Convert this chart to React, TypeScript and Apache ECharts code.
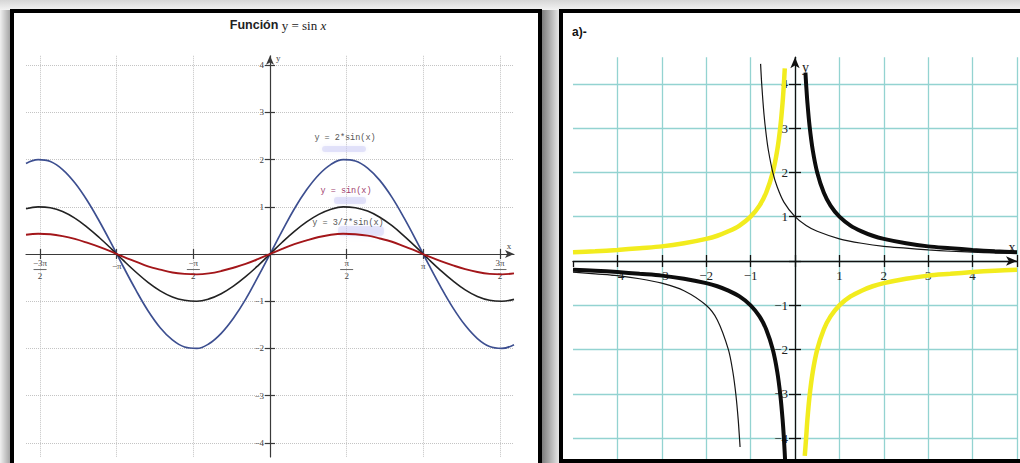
import React, { useEffect, useRef } from "react";
import * as echarts from "echarts";

// ---------- Left panel data ----------
const sineX = [
  -5, -4.75, -4.5, -4.25, -4, -3.75, -3.5, -3.25, -3, -2.75, -2.5, -2.25, -2, -1.75, -1.5, -1.25, -1, -0.75, -0.5, -0.25,
  0, 0.25, 0.5, 0.75, 1, 1.25, 1.5, 1.75, 2, 2.25, 2.5, 2.75, 3, 3.25, 3.5, 3.75, 4, 4.25, 4.5, 4.75, 5,
];
const sinY = [
  0.96, 1.0, 0.98, 0.9, 0.76, 0.57, 0.35, 0.11, -0.14, -0.38, -0.6, -0.78, -0.91, -0.98, -1.0, -0.95, -0.84, -0.68, -0.48, -0.25,
  0, 0.25, 0.48, 0.68, 0.84, 0.95, 1.0, 0.98, 0.91, 0.78, 0.6, 0.38, 0.14, -0.11, -0.35, -0.57, -0.76, -0.9, -0.98, -1.0, -0.96,
];
const twoSinY = [
  1.92, 2.0, 1.96, 1.79, 1.51, 1.14, 0.7, 0.22, -0.28, -0.76, -1.2, -1.56, -1.82, -1.97, -2.0, -1.9, -1.68, -1.36, -0.96, -0.49,
  0, 0.49, 0.96, 1.36, 1.68, 1.9, 2.0, 1.97, 1.82, 1.56, 1.2, 0.76, 0.28, -0.22, -0.7, -1.14, -1.51, -1.79, -1.96, -2.0, -1.92,
];
const threeSeventhsSinY = [
  0.41, 0.43, 0.42, 0.38, 0.32, 0.24, 0.15, 0.05, -0.06, -0.16, -0.26, -0.33, -0.39, -0.42, -0.43, -0.41, -0.36, -0.29, -0.21, -0.11,
  0, 0.11, 0.21, 0.29, 0.36, 0.41, 0.43, 0.42, 0.39, 0.33, 0.26, 0.16, 0.06, -0.05, -0.15, -0.24, -0.32, -0.38, -0.42, -0.43, -0.41,
];
const sineTickValues = [-3 * Math.PI / 2, -Math.PI, -Math.PI / 2, Math.PI / 2, Math.PI, 3 * Math.PI / 2];
const sineTickLabels = [["−3π", "2"], ["−π"], ["−π", "2"], ["π", "2"], ["π"], ["3π", "2"]];
const sineYTicks = [-4, -3, -2, -1, 0, 1, 2, 3, 4];
const sineYLabels = [-4, -3, -2, -1, 1, 2, 3, 4];

// ---------- Right panel data ----------
const yellowLeft = [
  [-5, 0.2], [-4.5, 0.22], [-4, 0.25], [-3.5, 0.29], [-3, 0.33], [-2.5, 0.4], [-2, 0.5], [-1.75, 0.57], [-1.5, 0.67],
  [-1.25, 0.8], [-1, 1], [-0.8, 1.25], [-0.65, 1.54], [-0.5, 2], [-0.4, 2.5], [-0.33, 3.03], [-0.28, 3.57], [-0.25, 4], [-0.23, 4.35],
];
const yellowRight = [
  [0.22, -4.4], [0.25, -4], [0.28, -3.57], [0.33, -3.03], [0.4, -2.5], [0.5, -2], [0.65, -1.54], [0.8, -1.25], [1, -1],
  [1.25, -0.8], [1.5, -0.67], [1.75, -0.57], [2, -0.5], [2.5, -0.4], [3, -0.33], [3.5, -0.29], [4, -0.25], [4.5, -0.22], [5, -0.2],
];
const thickRight = [
  [0.235, 4.25], [0.25, 4], [0.28, 3.57], [0.33, 3.03], [0.4, 2.5], [0.5, 2], [0.65, 1.54], [0.8, 1.25], [1, 1],
  [1.25, 0.8], [1.5, 0.67], [1.75, 0.57], [2, 0.5], [2.5, 0.4], [3, 0.33], [3.5, 0.29], [4, 0.25], [4.5, 0.22], [5, 0.2],
];
const thickLeft = [
  [-5, -0.2], [-4.5, -0.22], [-4, -0.25], [-3.5, -0.29], [-3, -0.33], [-2.5, -0.4], [-2, -0.5], [-1.75, -0.57], [-1.5, -0.67],
  [-1.25, -0.8], [-1, -1], [-0.8, -1.25], [-0.65, -1.54], [-0.5, -2], [-0.4, -2.5], [-0.33, -3.03], [-0.28, -3.57], [-0.25, -4], [-0.215, -4.65],
];
const thinRight = [
  [-0.775, 4.45], [-0.75, 4], [-0.7, 3.33], [-0.65, 2.86], [-0.6, 2.5], [-0.5, 2], [-0.4, 1.67], [-0.25, 1.33], [0, 1],
  [0.25, 0.8], [0.5, 0.67], [1, 0.5], [1.5, 0.4], [2, 0.33], [2.5, 0.29], [3, 0.25], [3.5, 0.22], [4, 0.2], [4.5, 0.18], [5, 0.17],
];
const thinLeft = [
  [-5, -0.25], [-4.5, -0.29], [-4, -0.33], [-3.5, -0.4], [-3, -0.5], [-2.5, -0.67], [-2, -1], [-1.75, -1.33], [-1.5, -2],
  [-1.4, -2.5], [-1.33, -3.03], [-1.28, -3.57], [-1.25, -4], [-1.237, -4.2],
];
const hypTicks = [-5, -4, -3, -2, -1, 0, 1, 2, 3, 4, 5];
const hypGridX = [-4, -3, -2, -1, 0, 1, 2, 3, 4, 5];
const hypXLabels = [-4, -3, -2, -1, 1, 2, 3, 4];
const hypYTicks = [-4, -3, -2, -1, 0, 1, 2, 3, 4];
const hypYLabels = [-4, -3, -2, -1, 1, 2, 3, 4];

const SERIF = "'Liberation Serif', 'DejaVu Serif', serif";
const SANS = "'Liberation Sans', Arial, sans-serif";
const MONO = "'Liberation Mono', 'DejaVu Sans Mono', monospace";

const minus = (v: number) => (v < 0 ? "\u2212" + Math.abs(v) : String(v));

function sineLabel(v: number) {
  let idx = 0;
  let best = Infinity;
  sineTickValues.forEach((t, i) => {
    const d = Math.abs(t - v);
    if (d < best) { best = d; idx = i; }
  });
  const parts = sineTickLabels[idx];
  if (parts.length === 2) return `{n|${parts[0]}}\n{l|}\n{d|${parts[1]}}`;
  return `{p|${parts[0]}}`;
}

// layout of the two plotting areas
const L = { left: 26, top: 55.8, width: 488, height: 401.2, xMin: -5, xMax: 5, yMin: -4.3, yMax: 4.2 };
const R = { left: 573, top: 57.2, width: 444, height: 407.6, xMin: -5, xMax: 5, yMin: -4.6, yMax: 4.6 };
const xOffset = (g: typeof L) => -(g.height * (0 - g.yMin) / (g.yMax - g.yMin));
const yOffset = (g: typeof L) => -(g.width * (0 - g.xMin) / (g.xMax - g.xMin));

export default function App() {
  const ref = useRef<HTMLDivElement>(null);
  useEffect(() => {
    const chart = echarts.init(ref.current!, null, { renderer: "svg" });
    const leftAxisColor = "#3a3a3a";
    const rightAxisColor = "#111";
    const option: any = {
      animation: false,
      backgroundColor: "#ffffff",
      grid: [
        { left: L.left, top: L.top, width: L.width, height: L.height, containLabel: false, outerBoundsMode: "none" },
        { left: R.left, top: R.top, width: R.width, height: R.height, containLabel: false, outerBoundsMode: "none" },
      ],
      xAxis: [
        {
          gridIndex: 0, type: "value", min: L.xMin, max: L.xMax, position: "bottom", offset: xOffset(L),
          axisLine: { onZero: false, lineStyle: { color: leftAxisColor, width: 1.2 }, symbol: ["none", "arrow"], symbolSize: [6, 9] },
          axisTick: { customValues: sineTickValues, length: 5, lineStyle: { color: leftAxisColor, width: 1.2 } },
          axisLabel: {
            customValues: sineTickValues, margin: 4, formatter: sineLabel,
            rich: {
              n: { fontFamily: SERIF, fontSize: 9, color: "#444", lineHeight: 10, align: "center" },
              l: { width: 13, height: 1, backgroundColor: "#666", lineHeight: 3, align: "center" },
              d: { fontFamily: SERIF, fontSize: 9, color: "#444", lineHeight: 10, align: "center" },
              p: { fontFamily: SERIF, fontSize: 9, color: "#444", lineHeight: 10, padding: [6, 0, 0, 0], align: "center" },
            },
          },
          splitLine: { show: true, lineStyle: { color: "#c4c4c4", type: "dotted", width: 1 } },
          name: "x", nameLocation: "end", nameGap: -5,
          nameTextStyle: { fontFamily: SERIF, fontSize: 9, color: "#444", align: "center", verticalAlign: "bottom", padding: [0, 0, 4, 0] },
        },
        {
          gridIndex: 0, type: "value", min: L.xMin, max: L.xMax, position: "bottom", offset: xOffset(L),
          axisLine: { show: false, onZero: false },
          axisTick: { inside: true, customValues: sineTickValues, length: 5, lineStyle: { color: leftAxisColor, width: 1.2 } },
          axisLabel: { show: false }, splitLine: { show: false },
        },
        {
          gridIndex: 1, type: "value", min: R.xMin, max: R.xMax, position: "bottom", offset: xOffset(R),
          axisLine: { onZero: false, lineStyle: { color: rightAxisColor, width: 1.3 }, symbol: ["none", "arrow"], symbolSize: [7, 11] },
          axisTick: { customValues: hypTicks, length: 6, lineStyle: { color: rightAxisColor, width: 1.3 } },
          axisLabel: { customValues: hypXLabels, margin: 8, formatter: minus, fontFamily: SERIF, fontSize: 13, color: "#222" },
          splitLine: { show: false },
          name: "x", nameLocation: "end", nameGap: -5,
          nameTextStyle: { fontFamily: SERIF, fontSize: 14, color: "#222", align: "center", verticalAlign: "bottom", padding: [0, 0, 7, 0] },
        },
        {
          gridIndex: 1, type: "value", min: R.xMin, max: R.xMax, position: "bottom", offset: xOffset(R),
          axisLine: { show: false, onZero: false },
          axisTick: { inside: true, customValues: hypGridX, length: 6, lineStyle: { color: rightAxisColor, width: 1.3 } },
          axisLabel: { show: false },
          splitLine: { show: true, lineStyle: { color: "#93d3d1", width: 1.3 } },
        },
      ],
      yAxis: [
        {
          gridIndex: 0, type: "value", min: L.yMin, max: L.yMax, position: "left", offset: yOffset(L),
          axisLine: { onZero: false, lineStyle: { color: leftAxisColor, width: 1.2 }, symbol: ["none", "arrow"], symbolSize: [6, 9] },
          axisTick: { customValues: sineYTicks, length: 5, lineStyle: { color: leftAxisColor, width: 1.2 } },
          axisLabel: { customValues: sineYLabels, margin: 6, formatter: minus, fontFamily: SERIF, fontSize: 9, color: "#444" },
          splitLine: { show: true, lineStyle: { color: "#c4c4c4", type: "dotted", width: 1 } },
          name: "y", nameLocation: "end", nameGap: -2,
          nameTextStyle: { fontFamily: SERIF, fontSize: 9, color: "#444", align: "left", verticalAlign: "middle", padding: [0, 0, 0, 6] },
        },
        {
          gridIndex: 0, type: "value", min: L.yMin, max: L.yMax, position: "left", offset: yOffset(L),
          axisLine: { show: false, onZero: false },
          axisTick: { inside: true, customValues: sineYTicks, length: 5, lineStyle: { color: leftAxisColor, width: 1.2 } },
          axisLabel: { show: false }, splitLine: { show: false },
        },
        {
          gridIndex: 1, type: "value", min: R.yMin, max: R.yMax, position: "left", offset: yOffset(R),
          axisLine: { onZero: false, lineStyle: { color: rightAxisColor, width: 1.3 }, symbol: ["none", "arrow"], symbolSize: [7, 11] },
          axisTick: { customValues: hypYTicks, length: 6, lineStyle: { color: rightAxisColor, width: 1.3 } },
          axisLabel: { customValues: hypYLabels, margin: 7, formatter: minus, fontFamily: SERIF, fontSize: 13, color: "#222" },
          splitLine: { show: true, lineStyle: { color: "#93d3d1", width: 1.3 } },
          name: "y", nameLocation: "end", nameGap: -10,
          nameTextStyle: { fontFamily: SERIF, fontSize: 14, color: "#222", align: "left", verticalAlign: "middle", padding: [0, 0, 0, 7] },
        },
        {
          gridIndex: 1, type: "value", min: R.yMin, max: R.yMax, position: "left", offset: yOffset(R),
          axisLine: { show: false, onZero: false },
          axisTick: { inside: true, customValues: hypYTicks, length: 6, lineStyle: { color: rightAxisColor, width: 1.3 } },
          axisLabel: { show: false }, splitLine: { show: false },
        },
      ],
      series: [
        {
          type: "line", xAxisIndex: 0, yAxisIndex: 0, smooth: 0.4, showSymbol: false,
          data: sineX.map((x, i) => [x, twoSinY[i]]), lineStyle: { color: "#3d4f90", width: 1.7 },
        },
        {
          type: "line", xAxisIndex: 0, yAxisIndex: 0, smooth: 0.4, showSymbol: false,
          data: sineX.map((x, i) => [x, sinY[i]]), lineStyle: { color: "#222", width: 1.6 },
        },
        {
          type: "line", xAxisIndex: 0, yAxisIndex: 0, smooth: 0.4, showSymbol: false,
          data: sineX.map((x, i) => [x, threeSeventhsSinY[i]]), lineStyle: { color: "#a3161a", width: 1.9 },
        },
        ...[
          { d: yellowLeft, c: "#f2ec1e", w: 4.5 },
          { d: yellowRight, c: "#f2ec1e", w: 4.5 },
          { d: thinRight, c: "#151515", w: 1.2 },
          { d: thinLeft, c: "#151515", w: 1.2 },
          { d: thickRight, c: "#0d0d0d", w: 4 },
          { d: thickLeft, c: "#0d0d0d", w: 4 },
        ].map((s) => ({
          type: "line", xAxisIndex: 2, yAxisIndex: 2, smooth: 0.3, showSymbol: false,
          data: s.d, lineStyle: { color: s.c, width: s.w },
        })),
      ],
      graphic: [
        {
          type: "rect", z: 0, shape: { x: 0, y: 0, width: 1020, height: 10 },
          style: { fill: new echarts.graphic.LinearGradient(0, 0, 0, 1, [{ offset: 0, color: "#d6d6d6" }, { offset: 1, color: "#f3f3f3" }]) },
        },
        {
          type: "rect", z: 0, shape: { x: 0, y: 10, width: 10, height: 453 },
          style: { fill: new echarts.graphic.LinearGradient(0, 0, 1, 0, [{ offset: 0, color: "#f0f0f0" }, { offset: 1, color: "#a5a5a5" }]) },
        },
        {
          type: "rect", z: 0, shape: { x: 542, y: 10, width: 17, height: 453 },
          style: { fill: new echarts.graphic.LinearGradient(0, 0, 1, 0, [{ offset: 0, color: "#7c7c7c" }, { offset: 1, color: "#e8e8e8" }]) },
        },
        {
          type: "rect", z: 100, shape: { x: 12, y: 11, width: 528, height: 480 },
          style: { fill: "none", stroke: "#000", lineWidth: 4 },
        },
        {
          type: "rect", z: 100, shape: { x: 561, y: 11, width: 500, height: 450 },
          style: { fill: "none", stroke: "#000", lineWidth: 4 },
        },
        // soft lavender smudges under the annotations
        { type: "rect", z: 1, shape: { x: 322, y: 146, width: 44, height: 6, r: 3 }, style: { fill: "rgba(200,200,245,0.45)", shadowBlur: 5, shadowColor: "rgba(200,200,245,0.6)" } },
        { type: "rect", z: 1, shape: { x: 334, y: 197, width: 32, height: 7, r: 3 }, style: { fill: "rgba(200,200,245,0.45)", shadowBlur: 5, shadowColor: "rgba(200,200,245,0.6)" } },
        { type: "rect", z: 1, shape: { x: 338, y: 226, width: 46, height: 10, r: 4 }, style: { fill: "rgba(200,200,245,0.4)", shadowBlur: 5, shadowColor: "rgba(200,200,245,0.6)" } },
        {
          type: "text", z: 110, x: 278, y: 25,
          style: {
            text: "{b|Función} {m|y = sin }{i|x}", align: "center", verticalAlign: "middle",
            rich: {
              b: { fontFamily: SANS, fontWeight: "bold", fontSize: 12.5, fill: "#222" },
              m: { fontFamily: SERIF, fontSize: 13, fill: "#222" },
              i: { fontFamily: SERIF, fontStyle: "italic", fontSize: 13, fill: "#222" },
            },
          },
        },
        {
          type: "text", z: 110, x: 572, y: 32,
          style: { text: "a)-", align: "left", verticalAlign: "middle", fontFamily: SANS, fontWeight: "bold", fontSize: 12, fill: "#111" },
        },
        {
          type: "text", z: 110, x: 345, y: 138,
          style: { text: "y = 2*sin(x)", align: "center", verticalAlign: "middle", fontFamily: MONO, fontSize: 8.5, fill: "#555" },
        },
        {
          type: "text", z: 110, x: 346, y: 191,
          style: { text: "y = sin(x)", align: "center", verticalAlign: "middle", fontFamily: MONO, fontSize: 8.5, fill: "#a0406e" },
        },
        {
          type: "text", z: 110, x: 348, y: 223,
          style: { text: "y = 3/7*sin(x)", align: "center", verticalAlign: "middle", fontFamily: MONO, fontSize: 8.5, fill: "#555" },
        },
      ],
    };
    chart.setOption(option);
    return () => chart.dispose();
  }, []);
  return (
    <div
      ref={ref}
      style={{ position: "fixed", left: 0, top: 0, width: 1020, height: 463, background: "#fff" }}
    />
  );
}
